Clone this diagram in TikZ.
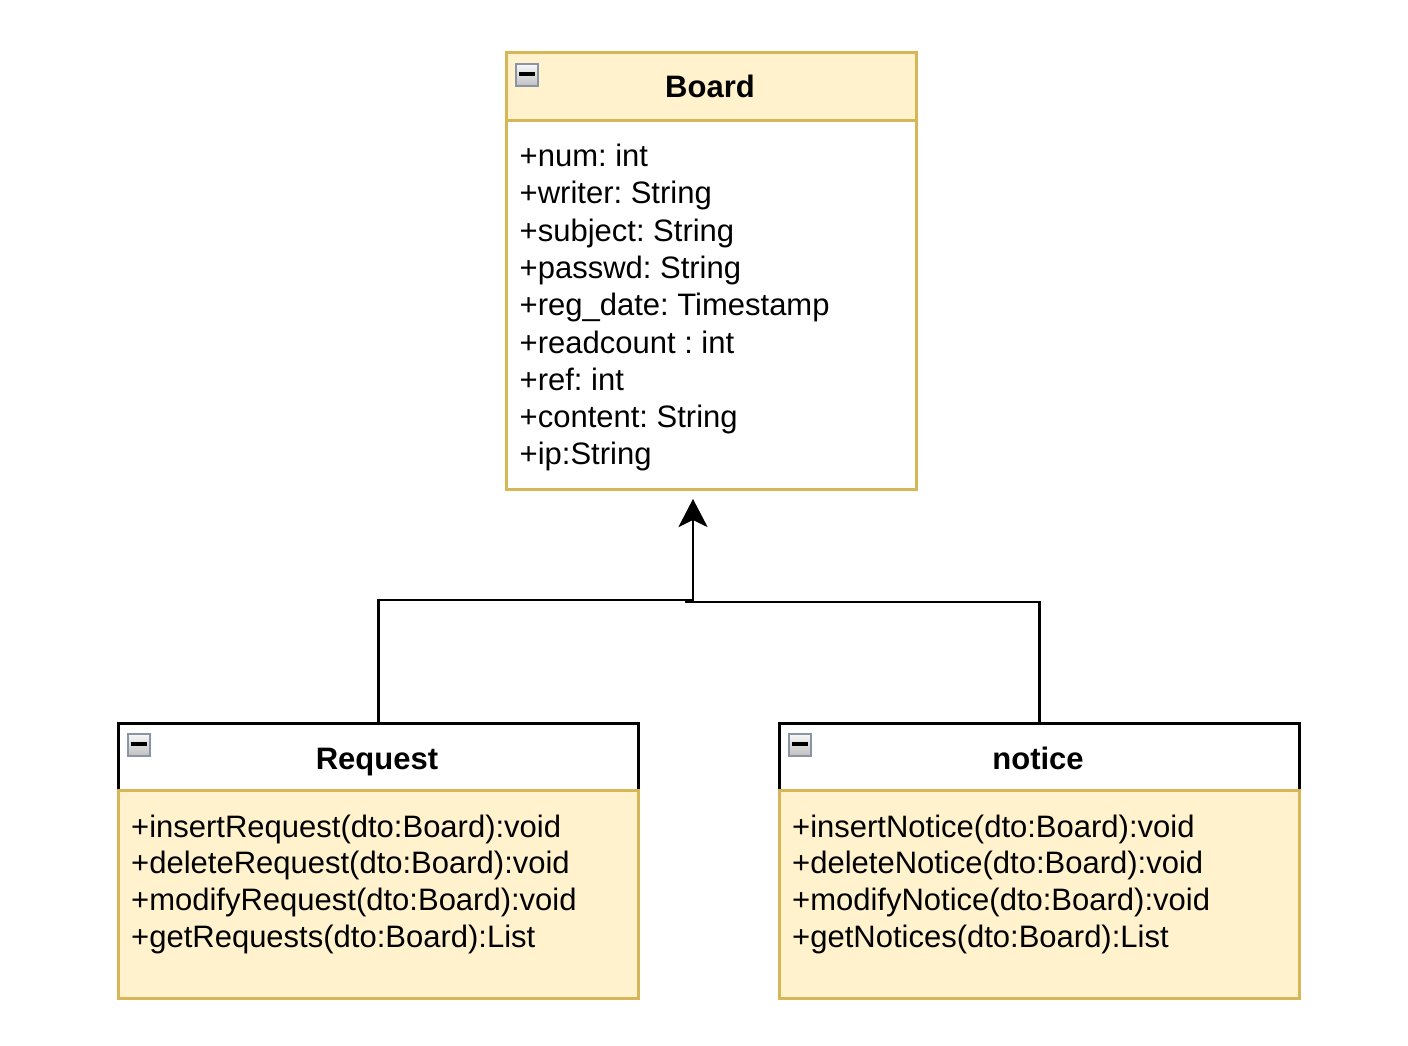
\documentclass[tikz,border=0pt]{standalone}
\usepackage{fontspec}
\setmainfont{Liberation Sans}
\usepackage{xcolor}
\usetikzlibrary{arrows.meta}

\definecolor{notefill}{HTML}{FFF2CC}
\definecolor{noteline}{HTML}{D6B656}
\definecolor{iconline}{HTML}{8A94A6}

\tikzset{
  box/.style={rectangle, anchor=north west, inner sep=0pt, line width=2.8pt},
  title/.style={anchor=base, inner sep=0pt, font=\fontsize{31}{37}\selectfont\bfseries},
  member/.style={anchor=base west, inner sep=0pt, font=\fontsize{31}{37}\selectfont\frenchspacing},
  icon/.style={rectangle, minimum size=22pt, inner sep=0pt, draw=iconline, line width=2pt,
    top color=gray!5, bottom color=gray!50,
    path picture={\draw[black, line width=3.2pt] ([xshift=-8pt,yshift=1pt]path picture bounding box.center)
      -- ([xshift=8pt,yshift=1pt]path picture bounding box.center);}},
  conn/.style={line width=2.8pt}
}

\begin{document}
\begin{tikzpicture}[x=1pt,y=-1pt]

\useasboundingbox (0,0) rectangle (1408,1046);

% Board
\node[box, draw=noteline, fill=notefill, minimum width=410pt, minimum height=68pt] (board) at (505,51) {};
\node[box, draw=noteline, fill=white, minimum width=410pt, minimum height=369pt] (boardbody) at (505,119) {};
\node[icon] (boardicon) at (527,75) {};
\node[title] (boardtitle) at (710,98) {Board};
\foreach \txt [count=\i from 0] in {+num: int, +writer: String, +subject: String, +passwd: String,
    +reg\_date: Timestamp, +readcount : int, +ref: int, +content: String, +ip:String}
  \node[member] (bd\i) at (519.5, 166.5+37.3*\i) {\txt};

% Request
\node[box, draw=black, fill=white, minimum width=520pt, minimum height=67pt] (request) at (117,722) {};
\node[box, draw=noteline, fill=notefill, minimum width=520pt, minimum height=208pt] (requestbody) at (117,789) {};
\node[icon] (requesticon) at (138.5,745) {};
\node[title] (requesttitle) at (377,769) {Request};
\foreach \txt [count=\i from 0] in {+insertRequest(dto:Board):void, +deleteRequest(dto:Board):void,
    +modifyRequest(dto:Board):void, +getRequests(dto:Board):List}
  \node[member] (rq\i) at (131, 837+36.9*\i) {\txt};

% notice
\node[box, draw=black, fill=white, minimum width=520pt, minimum height=67pt] (notice) at (778,722) {};
\node[box, draw=noteline, fill=notefill, minimum width=520pt, minimum height=208pt] (noticebody) at (778,789) {};
\node[icon] (noticeicon) at (800,745) {};
\node[title] (noticetitle) at (1038,769) {notice};
\foreach \txt [count=\i from 0] in {+insertNotice(dto:Board):void, +deleteNotice(dto:Board):void,
    +modifyNotice(dto:Board):void, +getNotices(dto:Board):List}
  \node[member] (nt\i) at (792, 837+36.9*\i) {\txt};

% inheritance
\coordinate (inh) at (693,499);
\coordinate (bendL) at (693,600);
\coordinate (bendR) at (686,602);
\draw[conn, -{Stealth[length=28pt,width=29pt,inset=7pt]}] (request.north) |- (bendL) -- (inh);
\draw[conn] (notice.north) |- (bendR) -- (bendR |- bendL);

\end{tikzpicture}
\end{document}
